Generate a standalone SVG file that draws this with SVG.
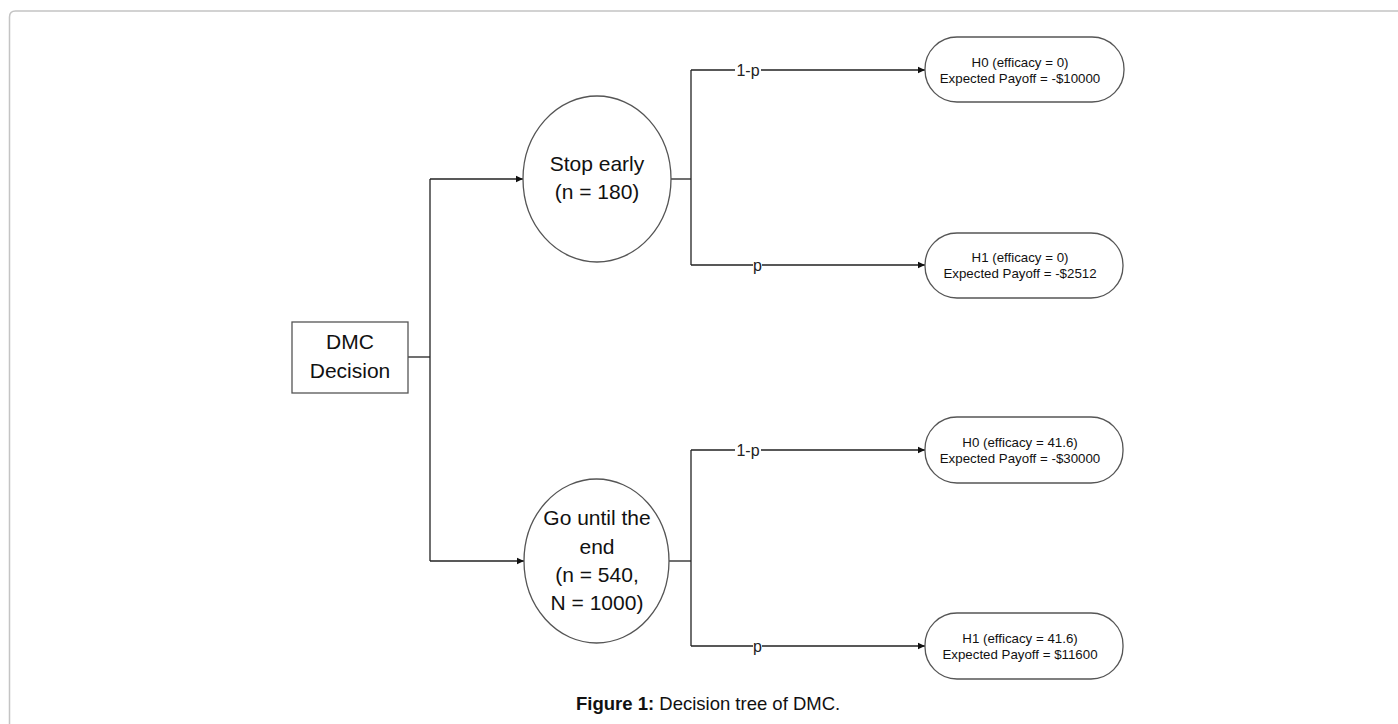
<svg xmlns="http://www.w3.org/2000/svg" width="1398" height="724" viewBox="0 0 1398 724">
<defs>
<style>
.n{fill:#fff;stroke:#555;stroke-width:1.3}
.c{fill:none;stroke:#222;stroke-width:1.3}
.t{font-family:"Liberation Sans",Arial,sans-serif;fill:#111;text-anchor:middle}
.big{font-size:21px}
.sm{font-size:13.3px}
.lb{font-family:"Liberation Sans",Arial,sans-serif;font-size:16px;fill:#222;text-anchor:middle}
</style>
<marker id="ar" markerWidth="8" markerHeight="8" refX="7" refY="4" orient="auto" markerUnits="userSpaceOnUse">
<path d="M0,0.8 L7,4 L0,7.2 Z" fill="#111"/>
</marker>
</defs>
<rect width="1398" height="724" fill="#fff"/>
<path d="M9.5,740 L9.5,17 Q9.5,11 15.5,11 L1410,11" fill="none" stroke="#c4c4c4" stroke-width="1.5"/>
<g id="connectors">
<path class="c" d="M408,357 H430"/>
<path class="c" d="M430,179 V561"/>
<path class="c" d="M430,179 H523" marker-end="url(#ar)"/>
<path class="c" d="M430,561 H524" marker-end="url(#ar)"/>
<path class="c" d="M671,179 H691"/>
<path class="c" d="M691,70 V265"/>
<path class="c" d="M691,70 H735 M761,70 H925" marker-end="url(#ar)"/>
<path class="c" d="M691,265 H753 M762,265 H925" marker-end="url(#ar)"/>
<path class="c" d="M669,561 H691"/>
<path class="c" d="M691,450 V646"/>
<path class="c" d="M691,450 H735 M761,450 H925" marker-end="url(#ar)"/>
<path class="c" d="M691,646 H753 M762,646 H925" marker-end="url(#ar)"/>
<text class="lb" x="748" y="76">1-p</text>
<text class="lb" x="757.5" y="271">p</text>
<text class="lb" x="748" y="456">1-p</text>
<text class="lb" x="757.5" y="652">p</text>
</g>
<g id="dmc">
<rect class="n" x="292" y="322" width="116" height="71"/>
<text class="t big" x="350" y="349">DMC</text>
<text class="t big" x="350" y="378">Decision</text>
</g>
<g id="stop">
<ellipse class="n" cx="597" cy="179" rx="74" ry="83"/>
<text class="t big" x="597" y="171">Stop early</text>
<text class="t big" x="597" y="199">(n = 180)</text>
</g>
<g id="go">
<ellipse class="n" cx="596.5" cy="561" rx="72.5" ry="82"/>
<text class="t big" x="597" y="525">Go until the</text>
<text class="t big" x="597" y="554">end</text>
<text class="t big" x="597" y="582">(n = 540,</text>
<text class="t big" x="597" y="610">N = 1000)</text>
</g>
<g id="h0a">
<rect class="n" x="925" y="37" width="199" height="65" rx="32"/>
<text class="t sm" x="1020" y="67">H0 (efficacy = 0)</text>
<text class="t sm" x="1020" y="83">Expected Payoff = -$10000</text>
</g>
<g id="h1a">
<rect class="n" x="925" y="233" width="198" height="65" rx="32"/>
<text class="t sm" x="1020" y="262">H1 (efficacy = 0)</text>
<text class="t sm" x="1020" y="278">Expected Payoff = -$2512</text>
</g>
<g id="h0b">
<rect class="n" x="925" y="417" width="198" height="66" rx="32"/>
<text class="t sm" x="1020" y="447">H0 (efficacy = 41.6)</text>
<text class="t sm" x="1020" y="463">Expected Payoff = -$30000</text>
</g>
<g id="h1b">
<rect class="n" x="925" y="613" width="198" height="66" rx="32"/>
<text class="t sm" x="1020" y="643">H1 (efficacy = 41.6)</text>
<text class="t sm" x="1020" y="659">Expected Payoff = $11600</text>
</g>
<text x="576" y="710" font-family="'Liberation Sans',Arial,sans-serif" font-size="18.5" fill="#111"><tspan font-weight="bold">Figure 1:</tspan> Decision tree of DMC.</text>
</svg>
